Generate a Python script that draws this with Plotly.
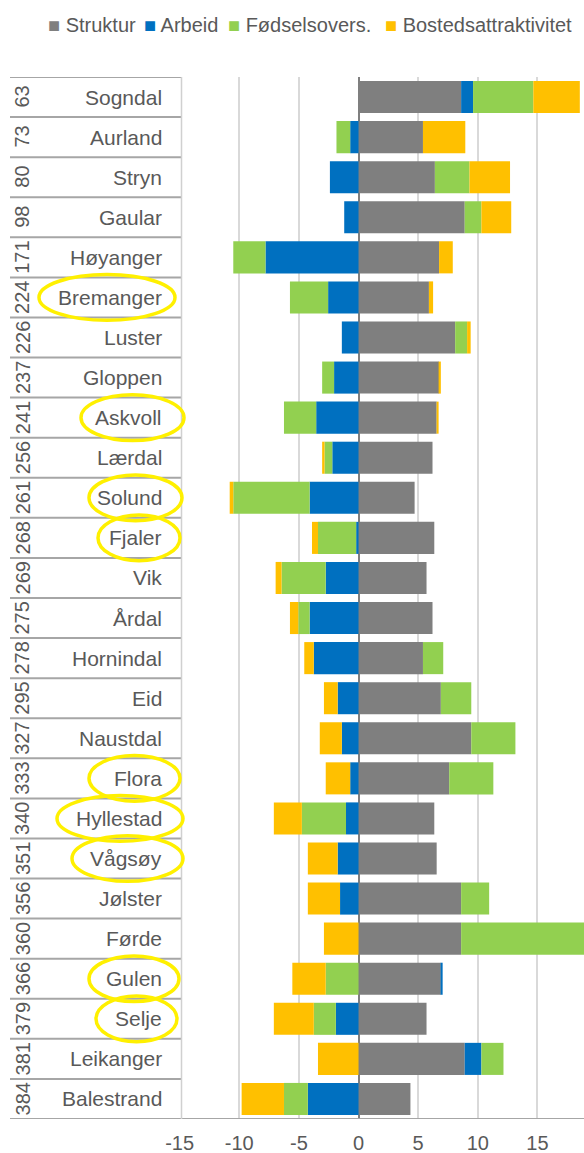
import plotly.graph_objects as go

W, H = 584, 1153

kommuner = ["Sogndal", "Aurland", "Stryn", "Gaular", "Høyanger", "Bremanger", "Luster",
            "Gloppen", "Askvoll", "Lærdal", "Solund", "Fjaler", "Vik", "Årdal", "Hornindal",
            "Eid", "Naustdal", "Flora", "Hyllestad", "Vågsøy", "Jølster", "Førde", "Gulen",
            "Selje", "Leikanger", "Balestrand"]
rangering = [63, 73, 80, 98, 171, 224, 226, 237, 241, 256, 261, 268, 269, 275, 278,
             295, 327, 333, 340, 351, 356, 360, 366, 379, 381, 384]

struktur = [8.6, 5.4, 6.4, 8.9, 6.75, 5.9, 8.1, 6.75, 6.55, 6.2, 4.7, 6.35, 5.7, 6.2, 5.4,
            6.9, 9.45, 7.6, 6.35, 6.55, 8.6, 8.6, 6.9, 5.7, 8.9, 4.35]
arbeid = [1.0, -0.7, -2.4, -1.2, -7.8, -2.55, -1.4, -2.05, -3.55, -2.2, -4.1, -0.2, -2.75,
          -4.1, -3.75, -1.75, -1.4, -0.7, -1.05, -1.75, -1.55, 0.0, 0.15, -1.9, 1.4, -4.25]
fodsel = [5.05, -1.15, 2.9, 1.4, -2.7, -3.2, 1.0, -1.0, -2.7, -0.65, -6.4, -3.2, -3.7,
          -0.95, 1.7, 2.55, 3.7, 3.7, -3.7, 0.0, 2.35, 10.5, -2.75, -1.85, 1.85, -2.0]
bosted = [3.9, 3.55, 3.4, 2.5, 1.15, 0.35, 0.3, 0.15, 0.15, -0.2, -0.3, -0.5, -0.5, -0.7,
          -0.8, -1.15, -1.85, -2.05, -2.35, -2.5, -2.7, -2.9, -2.8, -3.35, -3.4, -3.55]

serier = ["Struktur", "Arbeid", "Fødselsovers.", "Bostedsattraktivitet"]
farger = ["#7F7F7F", "#0070C0", "#92D050", "#FFC000"]

tick_vals = [-15, -10, -5, 0, 5, 10, 15]
tick_text = ["-15", "-10", "-5", "0", "5", "10", "15"]

# kommuner markert med gul ring (venstre/høyre kant i px)
ringer = {"Bremanger": (39, 175), "Askvoll": (81, 184), "Solund": (89, 182),
          "Fjaler": (98, 180), "Flora": (89, 180), "Hyllestad": (57, 183),
          "Vågsøy": (72, 183), "Gulen": (89, 179), "Selje": (96, 177)}

FONT = "Liberation Sans, Arial, sans-serif"
TXT = "#595959"

fig = go.Figure()
for navn, verdier, farge in zip(serier, [struktur, arbeid, fodsel, bosted], farger):
    fig.add_trace(go.Bar(y=kommuner, x=verdier, name=navn, orientation="h",
                         marker=dict(color=farge, line=dict(width=0)), showlegend=False))

n = len(kommuner)
shapes = []
# tabell-linjer for kategoriaksen
for i in range(n + 1):
    shapes.append(dict(type="line", xref="paper", yref="y", x0=10 / W,
                       x1=(1 if i == n else 181.5 / W), y0=i - 0.5, y1=i - 0.5,
                       line=dict(color="#A6A6A6", width=2), layer="above"))
shapes.append(dict(type="line", xref="paper", yref="y", x0=181.5 / W, x1=181.5 / W,
                   y0=-0.5, y1=n - 0.5, line=dict(color="#D0D0D0", width=1.5)))
for navn, (x0, x1) in ringer.items():
    i = kommuner.index(navn)
    shapes.append(dict(type="circle", xref="paper", yref="y", x0=x0 / W, x1=x1 / W,
                       y0=i - 0.57, y1=i + 0.57, line=dict(color="#FFF000", width=3.5),
                       layer="above"))

annotations = []
for navn, r in zip(kommuner, rangering):
    annotations.append(dict(xref="paper", yref="y", x=164 / W, y=navn, text=navn,
                            xanchor="right", yanchor="middle", showarrow=False,
                            font=dict(family=FONT, size=21, color=TXT)))
    annotations.append(dict(xref="paper", yref="y", x=22.5 / W, y=navn, text=str(r),
                            textangle=-90, xanchor="center", yanchor="middle",
                            showarrow=False, font=dict(family=FONT, size=20, color=TXT)))

# forklaring
leg_x = [46, 142, 226, 383]
for navn, farge, lx in zip(serier, farger, leg_x):
    annotations.append(dict(xref="paper", yref="paper", x=lx / W, y=1 + (77 - 25) / (H - 77 - 34),
                            text=f'<span style="color:{farge}">■</span> {navn}',
                            xanchor="left", yanchor="middle", showarrow=False,
                            font=dict(family=FONT, size=20, color=TXT)))

fig.update_layout(
    width=W, height=H,
    margin=dict(l=0, r=0, t=77, b=34, autoexpand=False),
    barmode="relative", bargap=0.2,
    plot_bgcolor="white", paper_bgcolor="white",
    font=dict(family=FONT, size=20, color=TXT),
    shapes=shapes, annotations=annotations,
    xaxis=dict(domain=[179.6 / W, 1], range=[-15, 18.9], tickvals=tick_vals,
               ticktext=tick_text, showgrid=True, gridcolor="#D9D9D9", gridwidth=1.5,
               zeroline=True, zerolinecolor="#7F7F7F", zerolinewidth=1.5,
               showline=False, ticklabelstandoff=10, automargin=False,
               tickfont=dict(family=FONT, size=20, color=TXT)),
    yaxis=dict(categoryorder="array", categoryarray=kommuner, range=[n - 0.5, -0.5],
               showticklabels=False, showgrid=False, zeroline=False, showline=False,
               automargin=False),
)

fig.write_html("out.html", config={"displayModeBar": False},
               post_script="document.body.style.margin='0';document.body.style.overflow='hidden';")
